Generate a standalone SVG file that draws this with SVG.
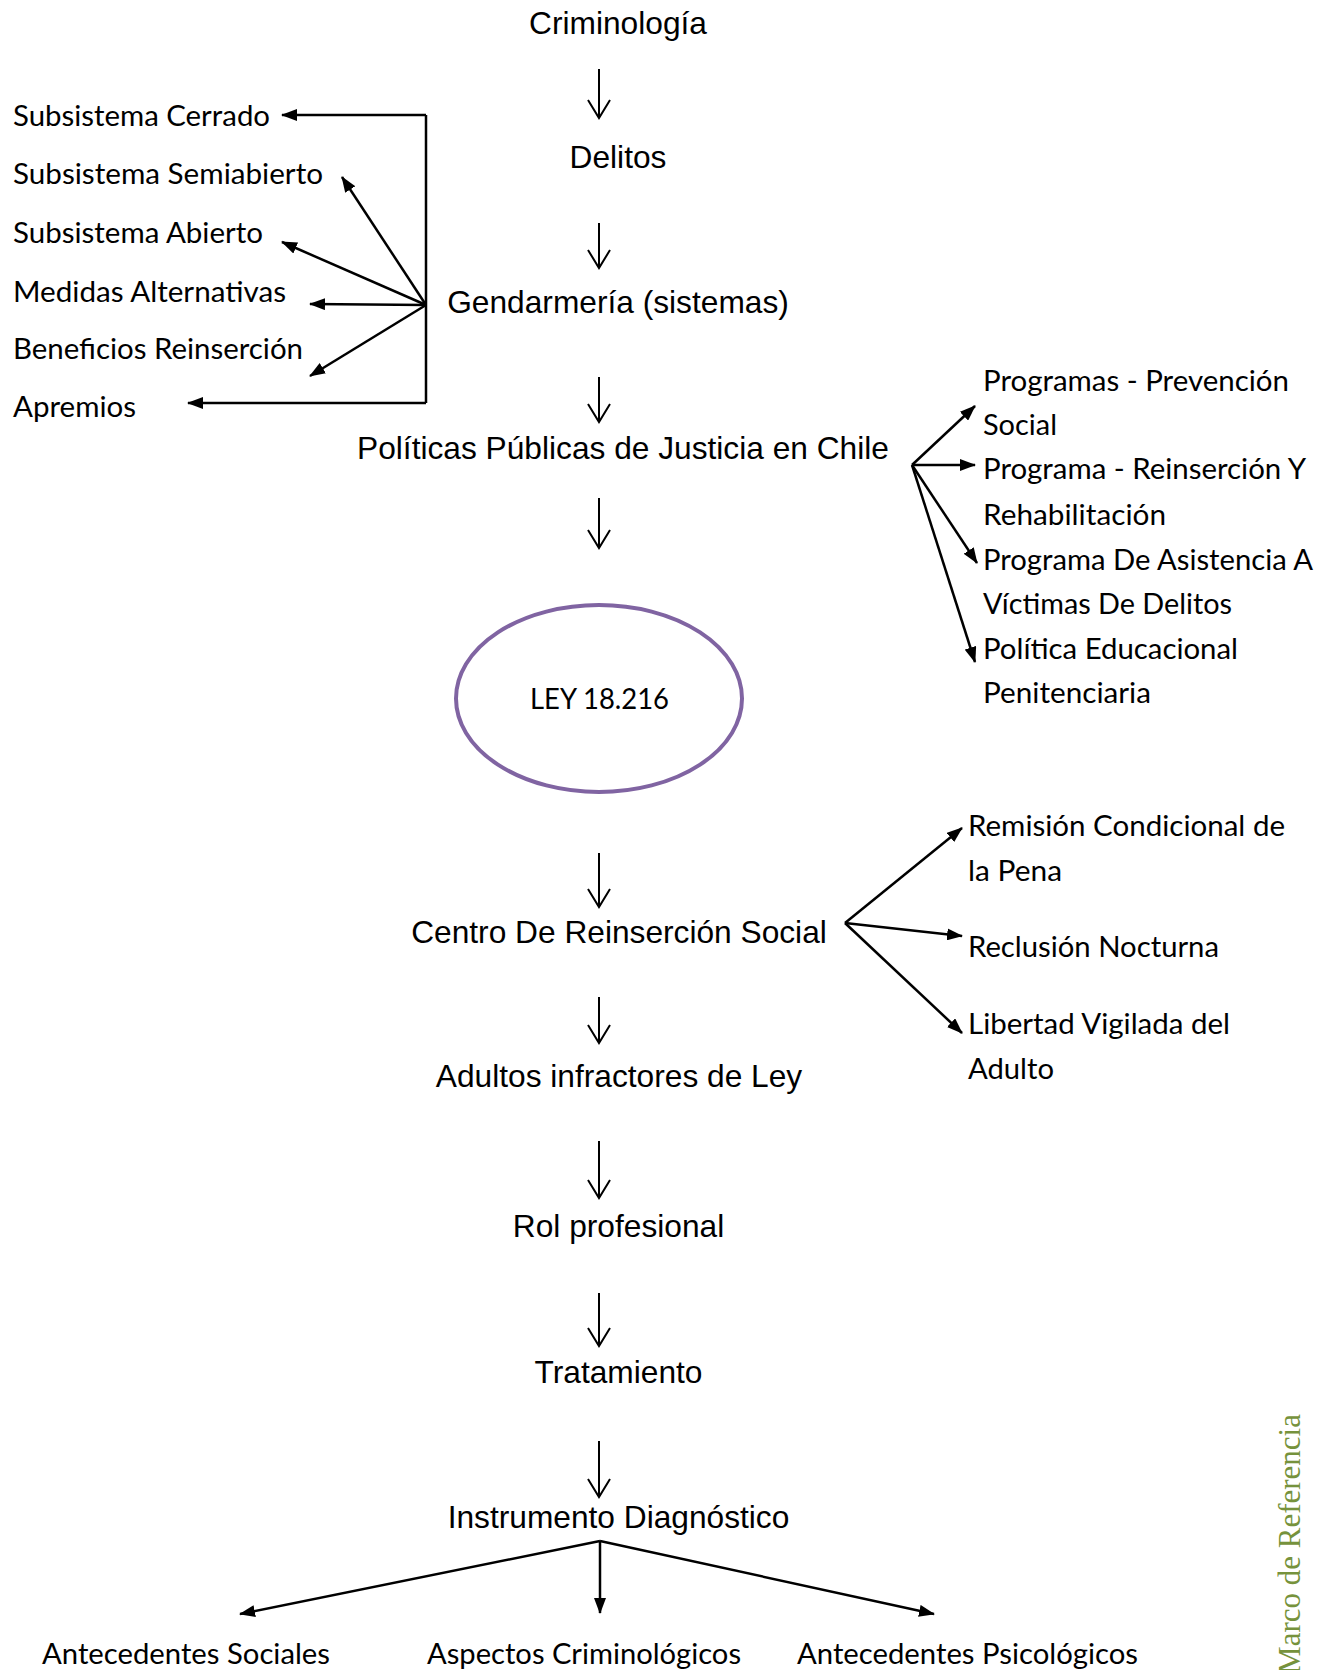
<svg xmlns="http://www.w3.org/2000/svg" width="1334" height="1670" viewBox="0 0 1334 1670">
<style>
.ar{font-family:"Liberation Sans",Arial,sans-serif;font-size:31.7px;fill:#000;text-anchor:middle}
.ca{font-family:Lato,"Open Sans",sans-serif;font-size:28.5px;fill:#000}
.ln{stroke:#000;stroke-width:2.5;fill:none}
.op{stroke:#000;stroke-width:2;fill:none;stroke-linejoin:miter}
.mk{fill:#000}
</style>
<defs>
<marker id="ah" markerUnits="userSpaceOnUse" viewBox="0 0 16 12" markerWidth="16" markerHeight="12" refX="15" refY="6" orient="auto">
<path class="mk" d="M0,0 L16,6 L0,12 z"/>
</marker>
</defs>
<rect width="1334" height="1670" fill="#fff"/>

<g id="n-criminologia"><text class="ar" x="618" y="34">Criminología</text></g>
<g id="n-delitos"><text class="ar" x="618" y="168">Delitos</text></g>
<g id="n-gendarmeria"><text class="ar" x="618" y="313">Gendarmería (sistemas)</text></g>
<g id="n-politicas"><text class="ar" x="623" y="459">Políticas Públicas de Justicia en Chile</text></g>
<g id="n-ley"><ellipse cx="599" cy="698.5" rx="143" ry="93.5" fill="#fff" stroke="#8064A2" stroke-width="4"/><text class="ca" x="599.5" y="709" text-anchor="middle" textLength="139" lengthAdjust="spacingAndGlyphs">LEY 18.216</text></g>
<g id="n-centro"><text class="ar" x="619" y="943">Centro De Reinserción Social</text></g>
<g id="n-adultos"><text class="ar" x="619" y="1087">Adultos infractores de Ley</text></g>
<g id="n-rol"><text class="ar" x="618.5" y="1237">Rol profesional</text></g>
<g id="n-tratamiento"><text class="ar" x="618.5" y="1383">Tratamiento</text></g>
<g id="n-instrumento"><text class="ar" x="618.5" y="1528">Instrumento Diagnóstico</text></g>

<g id="n-cerrado"><text class="ca" x="13" y="126" textLength="257" lengthAdjust="spacingAndGlyphs">Subsistema Cerrado</text></g>
<g id="n-semiabierto"><text class="ca" x="13" y="184" textLength="310" lengthAdjust="spacingAndGlyphs">Subsistema Semiabierto</text></g>
<g id="n-abierto"><text class="ca" x="13" y="243" textLength="250" lengthAdjust="spacingAndGlyphs">Subsistema Abierto</text></g>
<g id="n-medidas"><text class="ca" x="13" y="302" textLength="273" lengthAdjust="spacingAndGlyphs">Medidas Alternativas</text></g>
<g id="n-beneficios"><text class="ca" x="13" y="359" textLength="290" lengthAdjust="spacingAndGlyphs">Beneficios Reinserción</text></g>
<g id="n-apremios"><text class="ca" x="13" y="417" textLength="123" lengthAdjust="spacingAndGlyphs">Apremios</text></g>

<g id="n-prevencion"><text class="ca" x="983" y="391" textLength="306" lengthAdjust="spacingAndGlyphs">Programas - Prevención</text><text class="ca" x="983" y="435" textLength="74" lengthAdjust="spacingAndGlyphs">Social</text></g>
<g id="n-reinsercion"><text class="ca" x="983" y="479" textLength="323" lengthAdjust="spacingAndGlyphs">Programa - Reinserción Y</text><text class="ca" x="983" y="525" textLength="183" lengthAdjust="spacingAndGlyphs">Rehabilitación</text></g>
<g id="n-asistencia"><text class="ca" x="983" y="570" textLength="330" lengthAdjust="spacingAndGlyphs">Programa De Asistencia A</text><text class="ca" x="983" y="614" textLength="249" lengthAdjust="spacingAndGlyphs">Víctimas De Delitos</text></g>
<g id="n-educacional"><text class="ca" x="983" y="659" textLength="255" lengthAdjust="spacingAndGlyphs">Política Educacional</text><text class="ca" x="983" y="703" textLength="168" lengthAdjust="spacingAndGlyphs">Penitenciaria</text></g>

<g id="n-remision"><text class="ca" x="968" y="836" textLength="317" lengthAdjust="spacingAndGlyphs">Remisión Condicional de</text><text class="ca" x="968" y="881" textLength="94" lengthAdjust="spacingAndGlyphs">la Pena</text></g>
<g id="n-reclusion"><text class="ca" x="968" y="957" textLength="251" lengthAdjust="spacingAndGlyphs">Reclusión Nocturna</text></g>
<g id="n-libertad"><text class="ca" x="968" y="1034" textLength="262" lengthAdjust="spacingAndGlyphs">Libertad Vigilada del</text><text class="ca" x="968" y="1079" textLength="86" lengthAdjust="spacingAndGlyphs">Adulto</text></g>

<g id="n-sociales"><text class="ca" x="42" y="1664" textLength="288" lengthAdjust="spacingAndGlyphs">Antecedentes Sociales</text></g>
<g id="n-criminologicos"><text class="ca" x="427" y="1664" textLength="314" lengthAdjust="spacingAndGlyphs">Aspectos Criminológicos</text></g>
<g id="n-psicologicos"><text class="ca" x="797" y="1664" textLength="341" lengthAdjust="spacingAndGlyphs">Antecedentes Psicológicos</text></g>

<g id="n-marco"><text transform="translate(1300,1414) rotate(-90)" text-anchor="end" font-family="'Liberation Serif','Times New Roman',serif" font-size="31" fill="#76923C">Marco de Referencia</text></g>

<g id="connectors">
<!-- main vertical open arrows -->
<path class="op" d="M599,69 V118 M588,100 L599,118 L610,100"/>
<path class="op" d="M599,223 V268 M588,250 L599,268 L610,250"/>
<path class="op" d="M599,377 V422 M588,404 L599,422 L610,404"/>
<path class="op" d="M599,498 V548 M588,530 L599,548 L610,530"/>
<path class="op" d="M599,853 V907 M588,889 L599,907 L610,889"/>
<path class="op" d="M599,997 V1043 M588,1025 L599,1043 L610,1025"/>
<path class="op" d="M599,1141 V1198 M588,1180 L599,1198 L610,1180"/>
<path class="op" d="M599,1293 V1346 M588,1328 L599,1346 L610,1328"/>
<path class="op" d="M599,1441 V1497 M588,1479 L599,1497 L610,1479"/>
<!-- left bracket -->
<path class="ln" d="M426,115 V403"/>
<path class="ln" d="M426,115 H282" marker-end="url(#ah)"/>
<path class="ln" d="M426,403 H188" marker-end="url(#ah)"/>
<path class="ln" d="M426,305 L342,177" marker-end="url(#ah)"/>
<path class="ln" d="M426,305 L282,242" marker-end="url(#ah)"/>
<path class="ln" d="M426,305 L310,304" marker-end="url(#ah)"/>
<path class="ln" d="M426,305 L310,376" marker-end="url(#ah)"/>
<!-- politicas fan -->
<path class="ln" d="M912,465 L975,406" marker-end="url(#ah)"/>
<path class="ln" d="M912,465 L975,465" marker-end="url(#ah)"/>
<path class="ln" d="M912,465 L977,563" marker-end="url(#ah)"/>
<path class="ln" d="M912,465 L975,662" marker-end="url(#ah)"/>
<!-- centro fan -->
<path class="ln" d="M845,923 L962,828" marker-end="url(#ah)"/>
<path class="ln" d="M845,923 L962,936" marker-end="url(#ah)"/>
<path class="ln" d="M845,923 L962,1033" marker-end="url(#ah)"/>
<!-- instrumento fan -->
<path class="ln" d="M600,1541 L240,1614" marker-end="url(#ah)"/>
<path class="ln" d="M600,1541 L600,1613" marker-end="url(#ah)"/>
<path class="ln" d="M600,1541 L934,1614" marker-end="url(#ah)"/>
</g>
</svg>
